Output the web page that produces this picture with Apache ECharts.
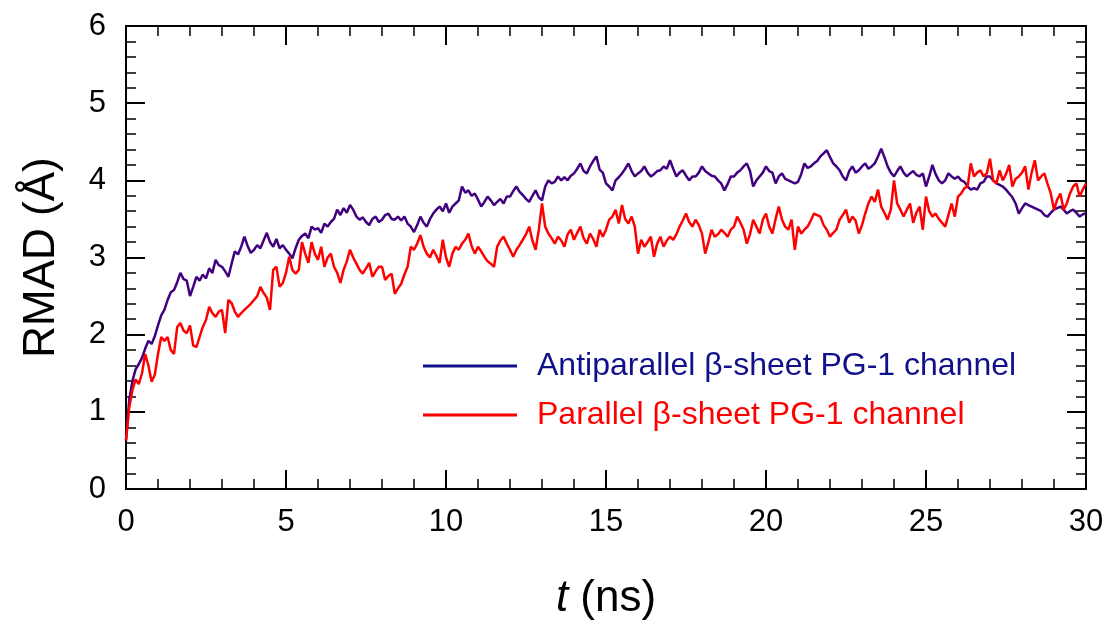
<!DOCTYPE html>
<html>
<head>
<meta charset="utf-8">
<script src="https://cdn.jsdelivr.net/npm/echarts@6/dist/echarts.min.js"></script>
<style>
html,body{margin:0;padding:0;background:#fff;}
#chart{width:1112px;height:627px;}
</style>
</head>
<body>
<div id="chart"></div>
<script>
// sampling step of the traces (ns)
var timeStep = 0.1;
var seriesNames = ['Antiparallel \u03b2-sheet PG-1 channel', 'Parallel \u03b2-sheet PG-1 channel'];
var xTicks = [0, 5, 10, 15, 20, 25, 30];
var yTicks = [0, 1, 2, 3, 4, 5, 6];

// Antiparallel (purple) RMAD values, every 0.1 ns from 0 to 30 ns
var antiparallel = [
0.63,1.15,1.40,1.55,1.62,1.70,1.82,1.92,1.88,1.98,
2.12,2.25,2.32,2.45,2.55,2.58,2.68,2.80,2.72,2.70,
2.50,2.62,2.75,2.70,2.78,2.73,2.86,2.80,2.97,2.90,
2.88,2.82,2.75,2.92,3.08,3.04,3.14,3.27,3.15,3.06,
3.10,3.16,3.12,3.22,3.32,3.20,3.14,3.24,3.12,3.16,
3.10,3.05,2.99,3.12,3.23,3.28,3.31,3.25,3.40,3.36,
3.38,3.32,3.44,3.40,3.46,3.50,3.62,3.55,3.64,3.58,
3.68,3.62,3.53,3.49,3.52,3.46,3.42,3.50,3.53,3.46,
3.49,3.55,3.57,3.50,3.49,3.53,3.48,3.53,3.44,3.40,
3.33,3.42,3.53,3.45,3.40,3.50,3.57,3.62,3.66,3.60,
3.70,3.58,3.66,3.70,3.74,3.92,3.84,3.87,3.80,3.83,
3.75,3.66,3.72,3.79,3.74,3.68,3.72,3.76,3.70,3.79,
3.79,3.86,3.92,3.85,3.81,3.76,3.72,3.80,3.87,3.78,
3.74,3.92,4.00,3.96,3.98,4.05,4.00,4.04,4.00,4.06,
4.09,4.15,4.22,4.12,4.09,4.18,4.25,4.31,4.14,4.10,
3.96,3.92,3.87,4.00,4.04,4.09,4.15,4.22,4.12,4.05,
4.09,4.12,4.18,4.10,4.05,4.08,4.12,4.13,4.18,4.15,
4.26,4.15,4.05,4.10,4.13,4.06,4.00,4.05,4.05,4.10,
4.18,4.12,4.09,4.06,4.05,4.00,3.96,3.87,3.95,4.05,
4.05,4.10,4.13,4.18,4.22,4.12,3.92,4.00,4.05,4.10,
4.18,4.12,4.10,3.96,4.05,4.09,4.02,4.00,3.98,3.96,
3.98,4.08,4.22,4.16,4.18,4.22,4.25,4.31,4.35,4.39,
4.30,4.22,4.18,4.13,4.05,4.00,4.12,4.18,4.10,4.13,
4.18,4.22,4.15,4.18,4.22,4.31,4.41,4.30,4.18,4.10,
4.05,4.12,4.18,4.10,4.05,4.09,4.12,4.07,4.05,4.09,
3.92,4.05,4.20,4.08,4.00,3.96,4.00,4.09,4.05,4.02,
4.05,4.00,3.98,3.92,3.88,3.90,3.88,3.96,3.98,4.05,
4.05,4.00,3.96,3.94,3.92,3.88,3.83,3.78,3.70,3.57,
3.64,3.70,3.68,3.66,3.64,3.62,3.60,3.55,3.53,3.58,
3.62,3.64,3.66,3.62,3.57,3.60,3.62,3.58,3.53,3.56,
3.57
];

// Parallel (red) RMAD values, every 0.1 ns from 0 to 30 ns
var parallel = [
0.63,1.05,1.28,1.42,1.36,1.50,1.75,1.60,1.39,1.48,
1.75,1.97,1.92,1.97,1.80,1.75,2.10,2.15,2.05,2.02,
2.12,1.86,1.84,1.97,2.10,2.19,2.36,2.28,2.23,2.30,
2.32,2.02,2.45,2.41,2.30,2.23,2.28,2.32,2.36,2.40,
2.45,2.50,2.62,2.54,2.48,2.32,2.84,2.88,2.62,2.67,
2.80,3.01,2.84,2.79,2.84,3.20,3.05,2.93,3.20,3.05,
2.97,3.14,2.88,3.00,3.05,2.88,2.80,2.67,2.84,2.95,
3.10,3.00,2.92,2.84,2.79,2.86,2.93,2.75,2.82,2.88,
2.88,2.71,2.76,2.79,2.53,2.60,2.66,2.78,2.88,3.14,
3.10,3.18,3.29,3.14,3.05,3.00,3.10,3.02,2.93,3.23,
3.00,2.88,3.05,3.14,3.10,3.18,3.23,3.31,3.15,3.05,
3.14,3.08,3.01,2.95,2.92,2.88,3.14,3.22,3.27,3.18,
3.10,3.01,3.10,3.16,3.23,3.30,3.40,3.22,3.10,3.36,
3.70,3.40,3.31,3.25,3.18,3.27,3.22,3.14,3.30,3.36,
3.23,3.32,3.40,3.25,3.18,3.31,3.24,3.14,3.36,3.27,
3.36,3.49,3.53,3.62,3.44,3.68,3.50,3.44,3.53,3.40,
3.05,3.23,3.14,3.20,3.27,3.01,3.18,3.27,3.14,3.22,
3.27,3.23,3.30,3.40,3.48,3.57,3.46,3.40,3.49,3.42,
3.31,3.05,3.20,3.36,3.27,3.30,3.36,3.32,3.27,3.36,
3.40,3.53,3.45,3.36,3.18,3.30,3.49,3.40,3.31,3.49,
3.57,3.40,3.31,3.50,3.66,3.49,3.40,3.36,3.49,3.10,
3.40,3.31,3.36,3.40,3.48,3.57,3.55,3.53,3.42,3.36,
3.27,3.32,3.36,3.49,3.55,3.62,3.45,3.53,3.48,3.31,
3.42,3.57,3.70,3.79,3.72,3.88,3.66,3.58,3.49,3.62,
4.00,3.70,3.62,3.53,3.62,3.70,3.45,3.58,3.66,3.36,
3.79,3.60,3.53,3.57,3.50,3.45,3.40,3.55,3.70,3.53,
3.79,3.83,3.90,3.92,4.22,4.05,4.10,4.13,4.05,4.09,
4.28,4.00,3.96,4.13,4.00,4.08,4.20,3.92,4.02,4.05,
4.10,4.18,3.88,4.10,4.26,4.00,4.05,4.09,3.95,3.83,
3.62,3.75,3.83,3.62,3.70,3.83,3.92,3.96,3.79,3.88,
3.96
];

function pairs(vals) {
  return vals.map(function (v, i) { return [Math.round(i * timeStep * 10) / 10, v]; });
}

var FONT = '"Liberation Sans", Arial, sans-serif';
var chart = echarts.init(document.getElementById('chart'), null, {renderer: 'canvas'});

var axisLineStyle = {color: '#000', width: 2};
function xAx(pos, showLabels) {
  return {
    type: 'value', position: pos, min: 0, max: 30, interval: 5,
    name: showLabels ? '{i|t} (ns)' : '',
    nameLocation: 'middle', nameGap: 88,
    nameTextStyle: {fontFamily: FONT, fontSize: 44, color: '#000',
      rich: {i: {fontFamily: FONT, fontSize: 44, fontStyle: 'italic', color: '#000'}}},
    axisLine: {show: true, onZero: false, lineStyle: axisLineStyle},
    axisTick: {show: true, inside: true, length: 19, lineStyle: {color: '#000', width: 2}},
    minorTick: {show: true, splitNumber: 5, length: 10, lineStyle: {color: '#000', width: 1.5}},
    axisLabel: {show: showLabels, fontFamily: FONT, fontSize: 31, color: '#000', margin: 18,
      formatter: function (v) { return xTicks.indexOf(v) >= 0 ? String(v) : ''; }},
    splitLine: {show: false}
  };
}
function yAx(pos, showLabels) {
  return {
    type: 'value', position: pos, min: 0, max: 6, interval: 1,
    name: showLabels ? 'RMAD (\u00c5)' : '',
    nameLocation: 'middle', nameGap: 62, nameRotate: 90,
    nameTextStyle: {fontFamily: FONT, fontSize: 44, color: '#000'},
    axisLine: {show: true, onZero: false, lineStyle: axisLineStyle},
    axisTick: {show: true, inside: true, length: 19, lineStyle: {color: '#000', width: 2}},
    minorTick: {show: true, splitNumber: 5, length: 10, lineStyle: {color: '#000', width: 1.5}},
    axisLabel: {show: showLabels, fontFamily: FONT, fontSize: 31, color: '#000', margin: 20,
      formatter: function (v) { return yTicks.indexOf(v) >= 0 ? String(v) : ''; }},
    splitLine: {show: false}
  };
}

var legendIcon = 'path://M0,0 L100,0 L100,3 L0,3 Z';
chart.setOption({
  animation: false,
  backgroundColor: '#fff',
  grid: {left: 126, right: 26, top: 26, bottom: 138, containLabel: false},
  xAxis: [xAx('bottom', true), xAx('top', false)],
  yAxis: [yAx('left', true), yAx('right', false)],
  legend: {
    orient: 'vertical', left: 423, top: 350, itemGap: 17, padding: 0,
    itemWidth: 94, itemHeight: 3,
    textStyle: {fontFamily: FONT, fontSize: 32, padding: [0, 0, 0, 15]},
    data: [
      {name: seriesNames[0], icon: legendIcon, itemStyle: {color: '#10108a'},
        textStyle: {color: '#10108a'}},
      {name: seriesNames[1], icon: legendIcon, itemStyle: {color: '#ff0000'},
        textStyle: {color: '#ff0000'}}
    ]
  },
  series: [
    {name: seriesNames[0], type: 'line', xAxisIndex: 0, yAxisIndex: 0, data: pairs(antiparallel),
      showSymbol: false, symbol: 'none', lineStyle: {color: '#400080', width: 2.5}, itemStyle: {color: '#400080'}, z: 2},
    {name: seriesNames[1], type: 'line', xAxisIndex: 0, yAxisIndex: 0, data: pairs(parallel),
      showSymbol: false, symbol: 'none', lineStyle: {color: '#ff0000', width: 2.5}, itemStyle: {color: '#ff0000'}, z: 3}
  ]
});
</script>
</body>
</html>
